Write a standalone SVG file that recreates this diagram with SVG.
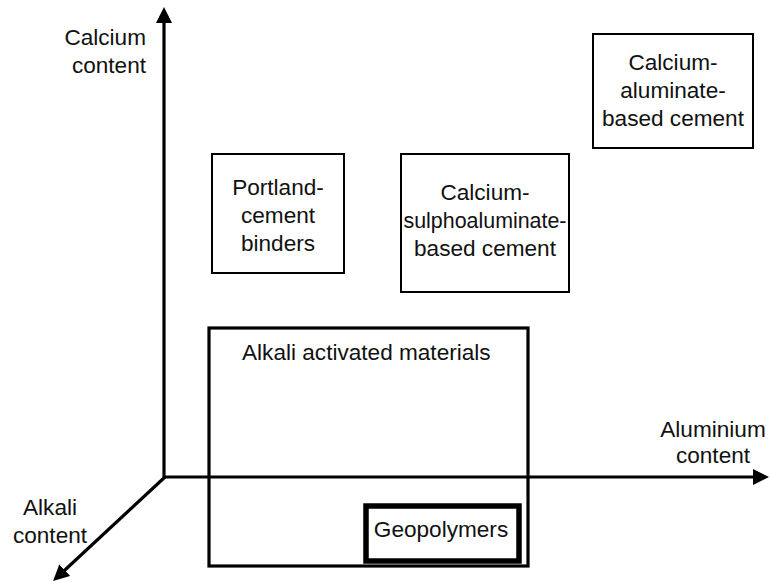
<svg xmlns="http://www.w3.org/2000/svg" width="770" height="583" viewBox="0 0 770 583">
  <defs>
    <marker id="arrow" markerUnits="userSpaceOnUse" markerWidth="16" markerHeight="16" refX="2" refY="8" orient="auto">
      <path d="M0,0 L16,8 L0,16 z" fill="#000"/>
    </marker>
    <style>
      text { font-family: "Liberation Sans", Arial, sans-serif; font-size: 22.6px; fill: #111; }
      .c { text-anchor: middle; }
      .r { text-anchor: end; }
      .axis { stroke: #000; stroke-width: 3.2; fill: none; marker-end: url(#arrow); }
      .box { fill: none; stroke: #000; stroke-width: 2; }
      .big { fill: none; stroke: #000; stroke-width: 3.2; }
      .heavy { fill: #fff; stroke: #000; stroke-width: 5.5; }
    </style>
  </defs>

  <!-- axes -->
  <g id="connectors">
    <line class="axis" x1="164" y1="477" x2="164" y2="21"/>
    <line class="axis" x1="163" y1="477" x2="755" y2="477"/>
    <line class="axis" x1="165" y1="477" x2="63.3" y2="571.5"/>
  </g>

  <!-- axis labels -->
  <g id="label-calcium">
    <text class="r" x="146" y="45">Calcium</text>
    <text class="r" x="146" y="73">content</text>
  </g>
  <g id="label-aluminium">
    <text class="c" x="713" y="437">Aluminium</text>
    <text class="c" x="713" y="463">content</text>
  </g>
  <g id="label-alkali">
    <text class="c" x="50" y="515">Alkali</text>
    <text class="c" x="50" y="543">content</text>
  </g>

  <!-- binder families -->
  <g id="portland">
    <rect class="box" x="212" y="154" width="132" height="119"/>
    <text class="c" x="278" y="195">Portland-</text>
    <text class="c" x="278" y="223">cement</text>
    <text class="c" x="278" y="251">binders</text>
  </g>
  <g id="csa">
    <rect class="box" x="401" y="154" width="168" height="138"/>
    <text class="c" x="485" y="200">Calcium-</text>
    <text class="c" x="485" y="228" textLength="163" lengthAdjust="spacingAndGlyphs">sulphoaluminate-</text>
    <text class="c" x="485" y="256">based cement</text>
  </g>
  <g id="cac">
    <rect class="box" x="593" y="34" width="160" height="114"/>
    <text class="c" x="673" y="70">Calcium-</text>
    <text class="c" x="673" y="98">aluminate-</text>
    <text class="c" x="673" y="126">based cement</text>
  </g>
  <g id="aam">
    <rect class="big" x="209" y="328" width="319" height="238"/>
    <text x="242" y="360">Alkali activated materials</text>
  </g>
  <g id="geopolymers">
    <rect class="heavy" x="366" y="506" width="153" height="55"/>
    <text class="c" x="441" y="537">Geopolymers</text>
  </g>
</svg>
